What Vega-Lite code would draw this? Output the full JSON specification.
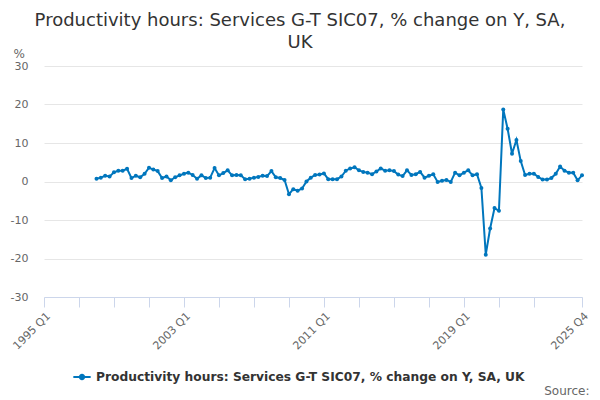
{
  "$schema": "https://vega.github.io/schema/vega-lite/v6.json",
  "width": 538,
  "height": 231,
  "autosize": {"type": "none"},
  "padding": {"left": 44, "top": 66, "right": 18, "bottom": 103},
  "title": {
    "text": ["Productivity hours: Services G-T SIC07, % change on Y, SA,", "UK"],
    "anchor": "middle",
    "frame": "group",
    "dx": -13,
    "dy": 23,
    "offset": 18,
    "fontSize": 18,
    "fontWeight": "normal",
    "color": "#333333",
    "lineHeight": 22
  },
  "data": {
    "values": [
      {"date": "1998-01-01", "value": 0.7},
      {"date": "1998-04-01", "value": 1.0},
      {"date": "1998-07-01", "value": 1.5},
      {"date": "1998-10-01", "value": 1.3},
      {"date": "1999-01-01", "value": 2.4},
      {"date": "1999-04-01", "value": 2.8},
      {"date": "1999-07-01", "value": 2.8},
      {"date": "1999-10-01", "value": 3.3},
      {"date": "2000-01-01", "value": 0.9},
      {"date": "2000-04-01", "value": 1.5},
      {"date": "2000-07-01", "value": 1.1},
      {"date": "2000-10-01", "value": 2.0},
      {"date": "2001-01-01", "value": 3.6},
      {"date": "2001-04-01", "value": 3.1},
      {"date": "2001-07-01", "value": 2.7},
      {"date": "2001-10-01", "value": 0.9},
      {"date": "2002-01-01", "value": 1.3},
      {"date": "2002-04-01", "value": 0.3},
      {"date": "2002-07-01", "value": 1.1},
      {"date": "2002-10-01", "value": 1.6},
      {"date": "2003-01-01", "value": 2.0},
      {"date": "2003-04-01", "value": 2.3},
      {"date": "2003-07-01", "value": 1.7},
      {"date": "2003-10-01", "value": 0.7},
      {"date": "2004-01-01", "value": 1.6},
      {"date": "2004-04-01", "value": 0.9},
      {"date": "2004-07-01", "value": 1.0},
      {"date": "2004-10-01", "value": 3.5},
      {"date": "2005-01-01", "value": 1.6},
      {"date": "2005-04-01", "value": 2.2},
      {"date": "2005-07-01", "value": 2.9},
      {"date": "2005-10-01", "value": 1.6},
      {"date": "2006-01-01", "value": 1.7},
      {"date": "2006-04-01", "value": 1.6},
      {"date": "2006-07-01", "value": 0.6},
      {"date": "2006-10-01", "value": 0.7},
      {"date": "2007-01-01", "value": 1.0},
      {"date": "2007-04-01", "value": 1.2},
      {"date": "2007-07-01", "value": 1.5},
      {"date": "2007-10-01", "value": 1.4},
      {"date": "2008-01-01", "value": 2.7},
      {"date": "2008-04-01", "value": 1.1},
      {"date": "2008-07-01", "value": 0.9},
      {"date": "2008-10-01", "value": 0.4},
      {"date": "2009-01-01", "value": -3.3},
      {"date": "2009-04-01", "value": -2.0},
      {"date": "2009-07-01", "value": -2.4},
      {"date": "2009-10-01", "value": -1.8},
      {"date": "2010-01-01", "value": 0.0},
      {"date": "2010-04-01", "value": 1.0},
      {"date": "2010-07-01", "value": 1.7},
      {"date": "2010-10-01", "value": 1.8},
      {"date": "2011-01-01", "value": 2.1},
      {"date": "2011-04-01", "value": 0.6},
      {"date": "2011-07-01", "value": 0.6},
      {"date": "2011-10-01", "value": 0.6},
      {"date": "2012-01-01", "value": 1.3},
      {"date": "2012-04-01", "value": 2.8},
      {"date": "2012-07-01", "value": 3.4},
      {"date": "2012-10-01", "value": 3.7},
      {"date": "2013-01-01", "value": 2.9},
      {"date": "2013-04-01", "value": 2.5},
      {"date": "2013-07-01", "value": 2.3},
      {"date": "2013-10-01", "value": 1.9},
      {"date": "2014-01-01", "value": 2.6},
      {"date": "2014-04-01", "value": 3.4},
      {"date": "2014-07-01", "value": 2.8},
      {"date": "2014-10-01", "value": 2.9},
      {"date": "2015-01-01", "value": 2.7},
      {"date": "2015-04-01", "value": 1.8},
      {"date": "2015-07-01", "value": 1.4},
      {"date": "2015-10-01", "value": 2.9},
      {"date": "2016-01-01", "value": 1.7},
      {"date": "2016-04-01", "value": 1.9},
      {"date": "2016-07-01", "value": 2.5},
      {"date": "2016-10-01", "value": 1.0},
      {"date": "2017-01-01", "value": 1.5},
      {"date": "2017-04-01", "value": 1.9},
      {"date": "2017-07-01", "value": -0.1},
      {"date": "2017-10-01", "value": 0.2},
      {"date": "2018-01-01", "value": 0.4},
      {"date": "2018-04-01", "value": -0.1},
      {"date": "2018-07-01", "value": 2.3},
      {"date": "2018-10-01", "value": 1.6},
      {"date": "2019-01-01", "value": 2.3},
      {"date": "2019-04-01", "value": 2.9},
      {"date": "2019-07-01", "value": 1.6},
      {"date": "2019-10-01", "value": 1.9},
      {"date": "2020-01-01", "value": -1.7},
      {"date": "2020-04-01", "value": -19.0},
      {"date": "2020-07-01", "value": -12.2},
      {"date": "2020-10-01", "value": -6.9},
      {"date": "2021-01-01", "value": -7.6},
      {"date": "2021-04-01", "value": 18.7},
      {"date": "2021-07-01", "value": 13.7},
      {"date": "2021-10-01", "value": 7.2},
      {"date": "2022-01-01", "value": 10.8},
      {"date": "2022-04-01", "value": 5.3},
      {"date": "2022-07-01", "value": 1.7},
      {"date": "2022-10-01", "value": 2.0},
      {"date": "2023-01-01", "value": 2.0},
      {"date": "2023-04-01", "value": 1.2},
      {"date": "2023-07-01", "value": 0.5},
      {"date": "2023-10-01", "value": 0.5},
      {"date": "2024-01-01", "value": 0.9},
      {"date": "2024-04-01", "value": 2.0},
      {"date": "2024-07-01", "value": 3.9},
      {"date": "2024-10-01", "value": 2.8},
      {"date": "2025-01-01", "value": 2.3},
      {"date": "2025-04-01", "value": 2.3},
      {"date": "2025-07-01", "value": 0.3},
      {"date": "2025-10-01", "value": 1.6}
    ]
  },
  "mark": {
    "type": "line",
    "strokeWidth": 2,
    "point": {"filled": true, "size": 16}
  },
  "encoding": {
    "x": {
      "field": "date",
      "type": "temporal",
      "scale": {
        "type": "utc",
        "domain": [
          {"year": 1995, "month": 1, "date": 1, "utc": true},
          {"year": 2025, "month": 10, "date": 1, "utc": true}
        ]
      },
      "axis": {
        "title": "Source:",
        "titleX": 545,
        "titleY": 93,
        "titleAlign": "right",
        "titleBaseline": "middle",
        "titleFontSize": 12,
        "titleFontWeight": "normal",
        "titleColor": "#666666",
        "values": [
          {"year": 1995, "month": 1, "date": 1, "utc": true},
          {"year": 1997, "month": 1, "date": 1, "utc": true},
          {"year": 1999, "month": 1, "date": 1, "utc": true},
          {"year": 2001, "month": 1, "date": 1, "utc": true},
          {"year": 2003, "month": 1, "date": 1, "utc": true},
          {"year": 2005, "month": 1, "date": 1, "utc": true},
          {"year": 2007, "month": 1, "date": 1, "utc": true},
          {"year": 2009, "month": 1, "date": 1, "utc": true},
          {"year": 2011, "month": 1, "date": 1, "utc": true},
          {"year": 2013, "month": 1, "date": 1, "utc": true},
          {"year": 2015, "month": 1, "date": 1, "utc": true},
          {"year": 2017, "month": 1, "date": 1, "utc": true},
          {"year": 2019, "month": 1, "date": 1, "utc": true},
          {"year": 2021, "month": 1, "date": 1, "utc": true},
          {"year": 2023, "month": 1, "date": 1, "utc": true},
          {"year": 2025, "month": 10, "date": 1, "utc": true}
        ],
        "labelExpr": "(utcmonth(datum.value) == 0 && (utcyear(datum.value) - 1995) % 8 == 0) || utcmonth(datum.value) == 9 ? utcyear(datum.value) + ' Q' + utcquarter(datum.value) : ''",
        "labelAngle": -45,
        "labelAlign": "right",
        "labelBaseline": "top",
        "labelOverlap": false,
        "labelFontSize": 11,
        "labelColor": "#666666",
        "labelPadding": 3,
        "grid": false,
        "domainColor": "#ccd6eb",
        "tickColor": "#ccd6eb",
        "tickSize": 10
      }
    },
    "y": {
      "field": "value",
      "type": "quantitative",
      "scale": {"domain": [-30, 30], "nice": false},
      "axis": {
        "title": "%",
        "titleAngle": 0,
        "titleX": -31,
        "titleY": -13,
        "titleAlign": "left",
        "titleBaseline": "middle",
        "titleFontSize": 12,
        "titleFontWeight": "normal",
        "titleColor": "#666666",
        "values": [-30, -20, -10, 0, 10, 20, 30],
        "labelExpr": "toString(datum.value)",
        "labelFontSize": 11,
        "labelColor": "#666666",
        "labelPadding": 16,
        "domain": false,
        "ticks": false,
        "gridColor": "#e6e6e6"
      }
    },
    "color": {
      "datum": "Productivity hours: Services G-T SIC07, % change on Y, SA, UK",
      "scale": {"range": ["#0076bd"]},
      "legend": {
        "title": null,
        "orient": "none",
        "legendX": 28,
        "legendY": 301,
        "symbolType": "M-1,0L1,0M0.25,0A0.25,0.25,0,1,1,-0.25,0A0.25,0.25,0,1,1,0.25,0",
        "symbolSize": 300,
        "symbolStrokeWidth": 2,
        "symbolFillColor": "#0076bd",
        "symbolStrokeColor": "#0076bd",
        "labelFontSize": 12.25,
        "labelFontWeight": "bold",
        "labelColor": "#333333",
        "labelLimit": 0
      }
    }
  },
  "config": {
    "font": "DejaVu Sans",
    "view": {"stroke": null}
  }
}
